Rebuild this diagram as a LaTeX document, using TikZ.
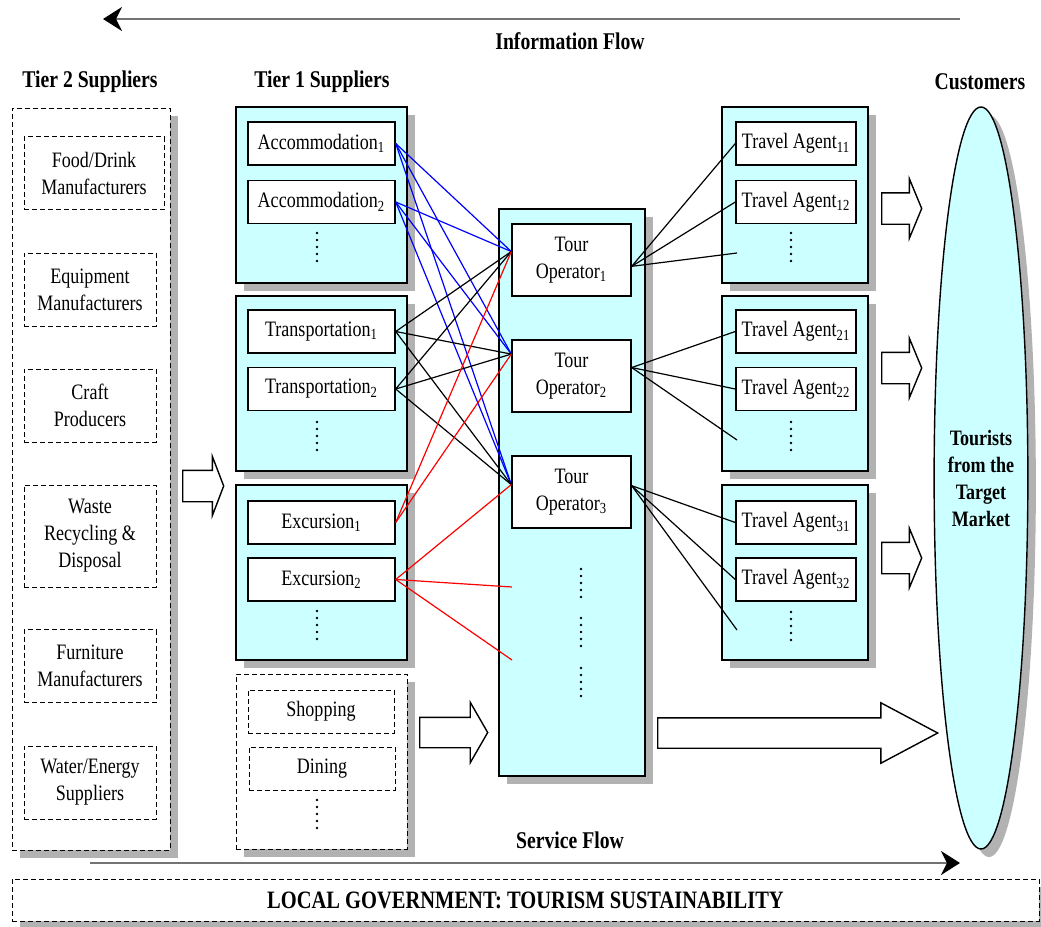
\documentclass[tikz,border=0pt]{standalone}
\usepackage{fontspec}
\setmainfont{Liberation Serif}[FakeStretch=0.82]
\usepackage{tikz}
\usetikzlibrary{arrows.meta}
\usetikzlibrary{shapes}
\usetikzlibrary{shadows}
\usetikzlibrary{fit}

\definecolor{paleCyan}{HTML}{CCFFFF}
\definecolor{shade}{gray}{0.70}
\definecolor{flowgray}{gray}{0.45}

\tikzset{
  shadowed/.style={drop shadow={shadow xshift=4pt,shadow yshift=-4pt,fill=shade,opacity=1}},
  group/.style={draw,line width=0.7pt,fill=paleCyan,inner sep=0pt,shadowed},
  dgroup/.style={draw,line width=0.5pt,dash pattern=on 2.5pt off 1.5pt,fill=white,inner sep=0pt,shadowed},
  box/.style={draw,line width=0.7pt,fill=white,inner sep=0pt,align=center,
    minimum width=73.5pt,minimum height=21.5pt,font=\fontsize{11}{13.5}\selectfont},
  dbox/.style={draw,line width=0.5pt,dash pattern=on 2.5pt off 1.5pt,fill=white,inner sep=0pt,
    align=center,font=\fontsize{11}{13.5}\selectfont},
  vdots/.style={line width=1.3pt,line cap=round,dash pattern=on 0pt off 3.5pt},
  fatarrow/.style={single arrow,draw,line width=0.7pt,fill=white,inner xsep=0pt,inner ysep=7.5pt,
    single arrow head extend=7pt,single arrow head indent=0pt,anchor=tail},
  heading/.style={font=\bfseries\fontsize{12}{14}\selectfont},
  flow/.style={draw=flowgray,line width=1.2pt,-{Stealth[black,length=9.5pt,width=12pt,inset=3pt]}}
}

\begin{document}
\begin{tikzpicture}[x=0.5pt,y=-0.5pt]
  \useasboundingbox (0,0) rectangle (1041,927);

  % titles
  \node[heading] (infolbl) at (570,41) {Information Flow};
  \node[heading] (tiertwolbl) at (90,82) {Tier 2 Suppliers};
  \node[heading] (tieronelbl) at (322,82) {Tier 1 Suppliers};
  \node[heading] (custlbl) at (980,82) {Customers};
  \node[heading] (servlbl) at (570,840) {Service Flow};

  % tier 2 suppliers
  \node[dgroup, fit={(12,108) (170,850)}] (tiertwo) {};
  \begin{scope}[every node/.style={dbox,minimum width=66pt,minimum height=36.5pt}]
    \node[minimum width=70pt] (food) at (94,173) {Food/Drink\\Manufacturers};
    \node (equip) at (90,289.5) {Equipment\\Manufacturers};
    \node (craft) at (90,405.5) {Craft\\Producers};
    \node[minimum height=51pt] (waste) at (90,536) {Waste\\Recycling \&\\Disposal};
    \node (furn) at (90,666) {Furniture\\Manufacturers};
    \node (water) at (90,782.5) {Water/Energy\\Suppliers};
  \end{scope}

  % tier 1 suppliers
  \node[group, fit={(236,107) (407,283)}] (accgrp) {};
  \node[group, fit={(236,296) (407,471)}] (transgrp) {};
  \node[group, fit={(236,485) (407,660)}] (excgrp) {};
  \node[dgroup, fit={(236,674) (407,849)}] (othergrp) {};
  \begin{scope}[every node/.style={box}]
    \node (acc1) at (321.5,143.5) {Accommodation\textsubscript{1}};
    \node (acc2) at (321.5,202) {Accommodation\textsubscript{2}};
    \node (trans1) at (321.5,331.5) {Transportation\textsubscript{1}};
    \node (trans2) at (321.5,389) {Transportation\textsubscript{2}};
    \node (exc1) at (321.5,522.5) {Excursion\textsubscript{1}};
    \node (exc2) at (321.5,579.5) {Excursion\textsubscript{2}};
  \end{scope}
  \begin{scope}[every node/.style={dbox,minimum width=73pt,minimum height=21.5pt}]
    \node (shop) at (321,711.5) {Shopping};
    \node (dine) at (322,768.5) {Dining};
  \end{scope}
  \draw[vdots] (317,233) -- (317,268);
  \draw[vdots] (317,422) -- (317,457);
  \draw[vdots] (317,611) -- (317,646);
  \draw[vdots] (317,800) -- (317,835);

  % tour operators
  \node[group, fit={(499,209) (645,776)}] (tourops) {};
  \begin{scope}[every node/.style={box,minimum width=59.5pt,minimum height=36pt}]
    \node (to1) at (571.5,260) {Tour\\Operator\textsubscript{1}};
    \node (to2) at (571.5,376) {Tour\\Operator\textsubscript{2}};
    \node (to3) at (571.5,492) {Tour\\Operator\textsubscript{3}};
  \end{scope}
  \draw[vdots] (581,569) -- (581,602);
  \draw[vdots] (581,618) -- (581,652);
  \draw[vdots] (581,668) -- (581,702);

  % travel agents
  \node[group, fit={(722,107) (868,283)}] (tagrp1) {};
  \node[group, fit={(722,296) (868,471)}] (tagrp2) {};
  \node[group, fit={(722,485) (868,660)}] (tagrp3) {};
  \begin{scope}[every node/.style={box,minimum width=60pt}]
    \node (ta11) at (796,143.5) {Travel Agent\textsubscript{11}};
    \node (ta12) at (796,202) {Travel Agent\textsubscript{12}};
    \node (ta21) at (796,331.5) {Travel Agent\textsubscript{21}};
    \node (ta22) at (796,389) {Travel Agent\textsubscript{22}};
    \node (ta31) at (796,522.5) {Travel Agent\textsubscript{31}};
    \node (ta32) at (796,579.5) {Travel Agent\textsubscript{32}};
  \end{scope}
  \draw[vdots] (791,233) -- (791,268);
  \draw[vdots] (791,422) -- (791,457);
  \draw[vdots] (791,612) -- (791,647);

  % customers
  \node[ellipse, draw, line width=0.7pt, fill=paleCyan, shadowed, inner sep=0pt,
    minimum width=46pt, minimum height=371pt, align=center,
    font=\bfseries\fontsize{11}{13.5}\selectfont] (tourists) at (981,478)
    {Tourists\\from the\\Target\\Market};

  % block arrows
  \node[fatarrow, minimum height=20.5pt, single arrow tip angle=138] (tierarrow) at (182,486) {};
  \node[fatarrow, minimum height=34pt, inner ysep=7.25pt, single arrow head extend=7.5pt,
    single arrow tip angle=120] (otherarrow) at (419,732.5) {};
  \node[fatarrow, minimum height=20pt, single arrow tip angle=135] (custarrow1) at (881,208.5) {};
  \node[fatarrow, minimum height=20pt, single arrow tip angle=135] (custarrow2) at (881,368) {};
  \node[fatarrow, minimum height=20pt, single arrow tip angle=135] (custarrow3) at (881,558) {};
  \node[fatarrow, minimum height=140pt, inner ysep=7.25pt, single arrow head extend=7.5pt,
    single arrow tip angle=56] (bigarrow) at (657,733) {};

  % free line ends
  \coordinate (excfree1) at (512,587);
  \coordinate (excfree2) at (512,660);
  \coordinate (tafree1) at (737,253);
  \coordinate (tafree2) at (737,440);
  \coordinate (tafree3) at (737,630);

  % supplier links
  \begin{scope}[every edge/.style={draw=blue,line width=0.6pt}]
    \path (acc1.east) edge (to1.172) edge (to2.160) edge (to3.173);
    \path (acc2.east) edge (to1.172) edge (to2.160) edge (to3.173);
  \end{scope}
  \begin{scope}[every edge/.style={draw=black,line width=0.6pt}]
    \path (trans1.east) edge (to1.172) edge (to2.160) edge (to3.173);
    \path (trans2.east) edge (to1.172) edge (to2.160) edge (to3.173);
  \end{scope}
  \begin{scope}[every edge/.style={draw=red,line width=0.6pt}]
    \path (exc1.east) edge (to1.172) edge (to2.160);
    \path (exc2.east) edge (to3.173) edge (excfree1) edge (excfree2);
  \end{scope}

  % agent links
  \begin{scope}[every edge/.style={draw=black,line width=0.6pt}]
    \path (to1.354) edge (ta11.west) edge (ta12.west) edge (tafree1);
    \path (to2.8) edge (ta21.west) edge (ta22.west) edge (tafree2);
    \path (to3.6) edge (ta31.west) edge (ta32.west) edge (tafree3);
  \end{scope}

  % flows
  \coordinate (infoR) at (960,19);
  \coordinate (infoL) at (103,19);
  \coordinate (servL) at (90,863);
  \coordinate (servR) at (960,863);
  \draw[flow] (infoR) -- (infoL);
  \draw[flow] (servL) -- (servR);

  % local government
  \node[dgroup, minimum width=513.5pt, minimum height=21pt,
    font=\bfseries\fontsize{12.5}{15}\selectfont] (govt) at (525.5,900)
    {LOCAL GOVERNMENT: TOURISM SUSTAINABILITY};
\end{tikzpicture}
\end{document}
